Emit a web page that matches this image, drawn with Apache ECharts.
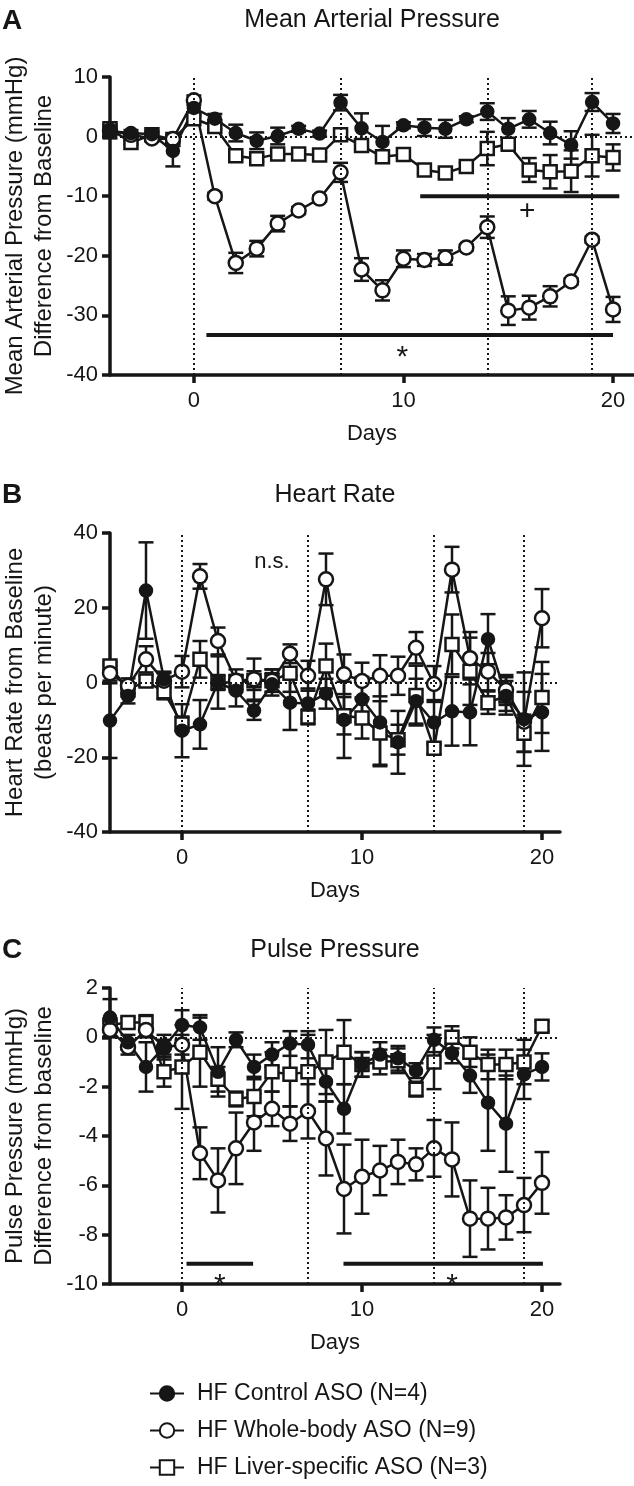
<!DOCTYPE html>
<html>
<head>
<meta charset="utf-8">
<script src="https://cdn.jsdelivr.net/npm/echarts@6/dist/echarts.min.js"></script>
<style>
  html, body { margin: 0; padding: 0; background: #ffffff; }
  #chart { width: 634px; height: 1486px; }
</style>
</head>
<body>
<div id="chart"></div>
<script>
  // days of the study, one point per day
  const days = [-4, -3, -2, -1, 0, 1, 2, 3, 4, 5, 6, 7, 8, 9, 10, 11, 12, 13, 14, 15, 16, 17, 18, 19, 20]
  const xTickDays = [0, 10, 20]
  const guideDays = [0, 7, 14, 19]
  const groupNames = ['HF Control ASO (N=4)', 'HF Whole-body ASO (N=9)', 'HF Liver-specific ASO (N=3)']

  // A - mean arterial pressure (mmHg, difference from baseline)
  const mapControl = [0.9, 0.6, 0.4, -2.4, 4.8, 3.0, 0.6, -0.7, 0.1, 1.3, 0.5, 5.7, 1.4, -0.9, 1.9, 1.5, 1.3, 2.9, 4.2, 1.3, 2.9, 0.6, -1.4, 5.8, 2.2]
  const mapControlErr = [1.2, 0.5, 0.5, 2.6, 1.0, 0.8, 1.4, 1.4, 1.4, 0.5, 0.5, 1.3, 2.5, 2.7, 0.5, 1.4, 1.5, 0.5, 1.4, 1.8, 1.4, 1.9, 2.3, 1.5, 1.6]
  const mapWhole = [1.0, 0.3, -0.3, -0.4, 6.1, -10.0, -21.2, -18.8, -14.6, -12.4, -10.4, -6.0, -22.3, -25.8, -20.5, -20.7, -20.3, -18.6, -15.2, -29.2, -28.7, -26.8, -24.3, -17.3, -29.0]
  const mapWholeErr = [0.5, 0.3, 0.3, 0.5, 0.8, 0.6, 1.7, 1.3, 1.3, 0.6, 0.5, 1.6, 1.9, 1.7, 1.4, 1.0, 1.2, 0.5, 1.8, 2.4, 2.0, 1.7, 0.5, 0.5, 2.1]
  const mapLiver = [1.3, -1.0, 0.3, -0.5, 3.0, 1.7, -3.2, -3.7, -2.9, -2.9, -3.1, 0.3, -1.5, -3.4, -3.0, -5.6, -6.1, -5.0, -2.0, -1.3, -5.6, -5.9, -5.8, -3.2, -3.5]
  const mapLiverErr = [0.5, 0.3, 0.3, 0.5, 0.5, 0.5, 0.5, 0.5, 0.5, 0.5, 0.5, 0.5, 1.0, 1.0, 0.5, 0.6, 0.8, 0.6, 2.8, 0.8, 2.0, 2.8, 3.5, 3.5, 2.2]
  const mapSigBars = [[0.6, 20.0, -33.3], [10.8, 20.3, -10]]
  const mapSigMarks = [[9.95, -35.8, '*'], [15.9, -12.6, '+']]

  // B - heart rate (beats per minute, from baseline)
  const hrControl = [-10.2, -3.6, 24.6, 0.9, -12.9, -11.2, 0.0, -2.2, -7.5, -0.5, -5.4, -5.6, -3.0, -10.0, -4.5, -10.7, -16.0, -5.0, -10.7, -7.7, -8.0, 11.6, -3.6, -9.8, -8.0]
  const hrControlErr = [10, 2, 12.9, 2, 7.1, 6.5, 7, 4.2, 2.5, 3, 7.3, 4, 4, 10.2, 6, 11.7, 8.4, 6, 6, 9.2, 8.8, 6.7, 4, 12.5, 10.3]
  const hrWhole = [2.5, -0.9, 6.2, 0.5, 2.9, 28.4, 11.1, 0.5, 0.9, 0.5, 7.7, 1.8, 27.6, 2.2, 0.4, 1.8, 1.8, 9.3, -0.4, 30.2, 6.5, 2.9, -2.0, -10.5, 17.2]
  const hrWholeErr = [2, 2, 3.5, 2, 4.2, 3.3, 3.6, 3, 5.5, 3, 2.5, 4, 6.9, 5.3, 4.9, 5.5, 5.1, 4.2, 4.8, 6.1, 7, 5, 4, 8, 7.8]
  const hrLiver = [4.4, -2.0, 0.4, -2.5, -11.1, 6.2, 0.0, 0.0, 0.5, 0.5, 2.5, -9.2, 4.4, -8.9, -9.5, -13.5, -15.3, -3.5, -17.6, 10.2, 3.0, -5.4, -3.6, -13.6, -4.0]
  const hrLiverErr = [1, 1, 1.5, 2, 2, 4.9, 2, 2, 2.5, 3, 5, 2, 6, 5, 5.5, 8.5, 4, 8, 1.5, 8, 9, 3, 5, 5, 9.5]
  const hrMarks = [[5, 32.3, 'n.s.']]

  // C - pulse pressure (mmHg, difference from baseline)
  const ppControl = [0.8, -0.2, -1.2, -0.4, 0.5, 0.4, -1.4, -0.1, -1.2, -0.7, -0.25, -0.3, -1.8, -2.9, -1.1, -0.7, -0.85, -1.35, -0.1, -0.65, -1.55, -2.65, -3.5, -1.5, -1.2]
  const ppControlErr = [0.75, 0.3, 1.0, 0.5, 0.6, 0.5, 1.0, 0.3, 0.5, 0.5, 0.5, 0.55, 0.8, 1.0, 0.5, 0.5, 0.5, 0.3, 0.5, 0.4, 0.7, 1.95, 1.95, 1.0, 0.55]
  const ppWhole = [0.3, -0.4, 0.3, -0.4, -0.3, -4.7, -5.8, -4.5, -3.45, -2.9, -3.5, -3.0, -4.1, -6.15, -5.65, -5.4, -5.05, -5.15, -4.5, -4.95, -7.35, -7.35, -7.3, -6.8, -5.9]
  const ppWholeErr = [0.3, 0.3, 0.3, 0.3, 0.4, 1.05, 1.3, 1.45, 1.15, 0.7, 0.7, 1.1, 1.5, 1.8, 1.5, 1.0, 0.9, 0.65, 1.15, 1.5, 1.55, 1.25, 0.9, 1.1, 1.25]
  const ppLiver = [0.5, 0.6, 0.6, -1.4, -1.2, -0.6, -1.7, -2.5, -2.4, -1.4, -1.5, -1.4, -1.0, -0.6, -1.1, -1.0, -0.95, -2.1, -1.0, 0.0, -0.6, -1.1, -1.1, -1.0, 0.45]
  const ppLiverErr = [0.2, 0.2, 0.3, 0.6, 1.7, 1.4, 0.5, 0.3, 0.8, 0.8, 1.3, 1.5, 1.3, 1.3, 0.5, 0.5, 0.5, 0.3, 1.1, 0.45, 0.6, 0.6, 0.6, 0.9, 0.2]
  const ppSigBars = [[0.25, 3.95, -9.18], [8.97, 20.05, -9.18]]
  const ppSigMarks = [[2.1, -9.75, '*'], [15.0, -9.75, '*']]

  const FONT = '"Liberation Sans", Arial, Helvetica, sans-serif'
  const INK = '#161616'
  const CAP = 15

  const markers = [
    { symbol: 'circle', size: 12, fill: INK },
    { symbol: 'circle', size: 14, fill: '#ffffff' },
    { symbol: 'rect', size: 13, fill: '#ffffff' }
  ]

  function errorBarItem(params, api) {
    const x = api.value(0)
    const lo = api.coord([x, api.value(1)])
    const hi = api.coord([x, api.value(2)])
    const h = CAP / 2
    const style = { stroke: INK, lineWidth: 2.5 }
    return {
      type: 'group',
      children: [
        { type: 'line', shape: { x1: lo[0], y1: lo[1], x2: hi[0], y2: hi[1] }, style },
        { type: 'line', shape: { x1: lo[0] - h, y1: lo[1], x2: lo[0] + h, y2: lo[1] }, style },
        { type: 'line', shape: { x1: hi[0] - h, y1: hi[1], x2: hi[0] + h, y2: hi[1] }, style }
      ]
    }
  }

  // one group = error bars + connected markers
  function groupSeries(panel, g, vals, errs) {
    const m = markers[g]
    return [
      {
        type: 'line',
        name: groupNames[g],
        xAxisIndex: panel,
        yAxisIndex: panel,
        z: 3,
        data: days.map((d, i) => [d, vals[i]]),
        symbol: m.symbol,
        symbolSize: m.size,
        showAllSymbol: true,
        lineStyle: { color: INK, width: 2.5 },
        itemStyle: { color: m.fill, borderColor: INK, borderWidth: 2.5 },
        emphasis: { disabled: true }
      },
      {
        type: 'custom',
        xAxisIndex: panel,
        yAxisIndex: panel,
        z: 2,
        silent: true,
        data: days.map((d, i) => [d, vals[i] - errs[i], vals[i] + errs[i]]),
        encode: { x: 0, y: [1, 2] },
        renderItem: errorBarItem
      }
    ]
  }

  function guideSeries(panel) {
    return {
      type: 'line',
      xAxisIndex: panel,
      yAxisIndex: panel,
      data: [],
      z: 1,
      silent: true,
      markLine: {
        silent: true,
        symbol: 'none',
        label: { show: false },
        lineStyle: { color: INK, width: 2, type: [2, 3] },
        data: guideDays.map((d) => ({ xAxis: d })).concat([{ yAxis: 0 }])
      }
    }
  }

  function sigSeries(panel, bars, marks) {
    return [
      {
        type: 'custom',
        xAxisIndex: panel,
        yAxisIndex: panel,
        z: 4,
        silent: true,
        data: bars,
        encode: { x: [0, 1], y: 2 },
        renderItem(params, api) {
          const a = api.coord([api.value(0), api.value(2)])
          const b = api.coord([api.value(1), api.value(2)])
          return { type: 'line', shape: { x1: a[0], y1: a[1], x2: b[0], y2: b[1] }, style: { stroke: INK, lineWidth: 4 } }
        }
      },
      {
        type: 'custom',
        xAxisIndex: panel,
        yAxisIndex: panel,
        z: 4,
        silent: true,
        data: marks.map((m) => [m[0], m[1]]),
        encode: { x: 0, y: 1 },
        renderItem(params, api) {
          const p = api.coord([api.value(0), api.value(1)])
          const txt = marks[params.dataIndex][2]
          const star = txt === '*'
          return {
            type: 'text',
            x: p[0],
            y: p[1] + (star ? 8 : 0),
            style: {
              text: txt,
              fill: INK,
              font: (star ? 30 : txt === '+' ? 28 : 22) + 'px ' + FONT,
              textAlign: 'center',
              textVerticalAlign: 'middle'
            }
          }
        }
      }
    ]
  }

  // fixed plot boxes, no automatic fitting of labels
  const grids = [
    { left: 110, top: 77, width: 524, height: 298, outerBoundsMode: 'none', containLabel: false },
    { left: 110, top: 533, width: 450, height: 299, outerBoundsMode: 'none', containLabel: false },
    { left: 110, top: 988, width: 450, height: 296, outerBoundsMode: 'none', containLabel: false }
  ]

  const axisLine = { show: true, onZero: false, lineStyle: { color: INK, width: 3.5 } }
  const axisTick = { show: true, length: 8, lineStyle: { color: INK, width: 3.5 } }
  const labelStyle = { color: INK, fontSize: 22, fontFamily: FONT }

  const xAxes = grids.map((g, i) => ({
    type: 'value',
    gridIndex: i,
    min: -4,
    max: 21,
    name: 'Days',
    nameLocation: 'middle',
    nameGap: 48,
    nameMoveOverlap: false,
    nameTextStyle: { color: INK, fontSize: 22, fontFamily: FONT },
    axisLine,
    axisTick: { ...axisTick, customValues: xTickDays },
    axisLabel: { ...labelStyle, margin: 15, customValues: xTickDays },
    splitLine: { show: false }
  }))

  const yRanges = [
    { min: -40, max: 10, interval: 10, name: 'Mean Arterial Pressure (mmHg)\nDifference from Baseline' },
    { min: -40, max: 40, interval: 20, name: 'Heart Rate from Baseline\n(beats per minute)' },
    { min: -10, max: 2, interval: 2, name: 'Pulse Pressure (mmHg)\nDifference from baseline' }
  ]

  const yAxes = yRanges.map((r, i) => ({
    type: 'value',
    gridIndex: i,
    min: r.min,
    max: r.max,
    interval: r.interval,
    name: r.name,
    nameLocation: 'middle',
    nameRotate: 90,
    nameGap: 51,
    nameMoveOverlap: false,
    nameTextStyle: { color: INK, fontSize: 24, fontFamily: FONT, lineHeight: 29 },
    axisLine,
    axisTick,
    axisLabel: { ...labelStyle, margin: 12 },
    splitLine: { show: false }
  }))

  const series = [
    guideSeries(0), guideSeries(1), guideSeries(2),
    ...groupSeries(0, 2, mapLiver, mapLiverErr),
    ...groupSeries(0, 1, mapWhole, mapWholeErr),
    ...groupSeries(0, 0, mapControl, mapControlErr),
    ...sigSeries(0, mapSigBars, mapSigMarks),
    ...groupSeries(1, 2, hrLiver, hrLiverErr),
    ...groupSeries(1, 1, hrWhole, hrWholeErr),
    ...groupSeries(1, 0, hrControl, hrControlErr),
    ...sigSeries(1, [], hrMarks),
    ...groupSeries(2, 2, ppLiver, ppLiverErr),
    ...groupSeries(2, 1, ppWhole, ppWholeErr),
    ...groupSeries(2, 0, ppControl, ppControlErr),
    ...sigSeries(2, ppSigBars, ppSigMarks)
  ]

  function headText(text, x, y, font, align) {
    return {
      type: 'text',
      x,
      y,
      style: { text, fill: INK, font, textAlign: align, textVerticalAlign: 'middle' }
    }
  }

  const chart = echarts.init(document.getElementById('chart'))
  chart.setOption({
    animation: false,
    backgroundColor: '#ffffff',
    grid: grids,
    xAxis: xAxes,
    yAxis: yAxes,
    series,
    legend: {
      data: groupNames,
      orient: 'vertical',
      left: 144,
      top: 1377,
      itemWidth: 34,
      itemHeight: 18,
      itemGap: 14,
      selectedMode: false,
      textStyle: { color: INK, fontSize: 23, fontFamily: FONT, padding: [0, 0, 0, 8] }
    },
    graphic: [
      headText('A', 2, 21, 'bold 28px ' + FONT, 'left'),
      headText('B', 2, 495, 'bold 28px ' + FONT, 'left'),
      headText('C', 2, 950, 'bold 28px ' + FONT, 'left'),
      headText('Mean Arterial Pressure', 372, 20, '25px ' + FONT, 'center'),
      headText('Heart Rate', 335, 495, '25px ' + FONT, 'center'),
      headText('Pulse Pressure', 335, 950, '25px ' + FONT, 'center')
    ]
  })
</script>
</body>
</html>
